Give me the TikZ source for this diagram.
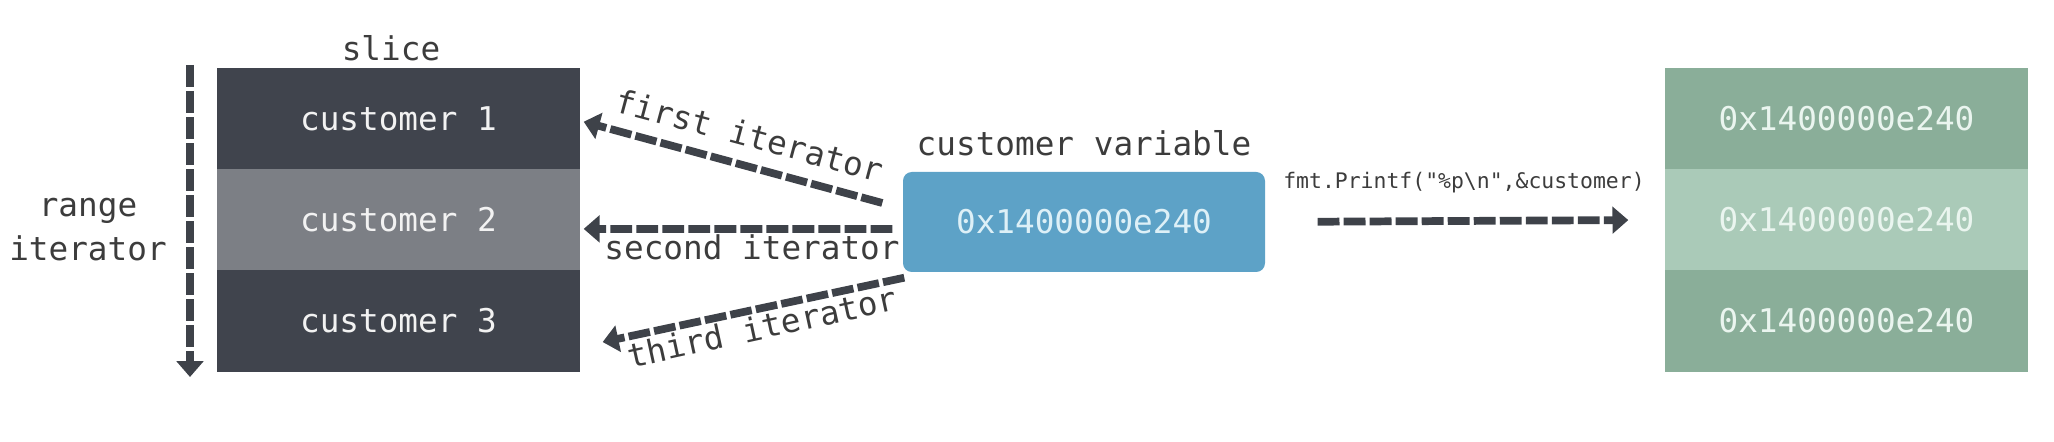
\documentclass[tikz,border=0pt]{standalone}
\usepackage{fontspec}
\setmonofont{DejaVu Sans Mono}
\usepackage{tikz}
\usetikzlibrary{arrows.meta, positioning}

\definecolor{slicedark}{HTML}{40444D}
\definecolor{slicemid}{HTML}{7C7F85}
\definecolor{cellwhite}{HTML}{F2F2F2}
\definecolor{varblue}{HTML}{5DA2C7}
\definecolor{vartext}{HTML}{DDF0F7}
\definecolor{memgreen}{HTML}{8AAE99}
\definecolor{memlight}{HTML}{AACAB8}
\definecolor{memtext}{HTML}{EAF5EF}
\definecolor{labelgray}{HTML}{3C3C3C}
\definecolor{arrowgray}{HTML}{3E4249}

\tikzset{
    cell/.style={minimum width=3.63cm, minimum height=1.015cm, inner sep=0pt,
        text=cellwhite, font=\ttfamily\fontsize{9.3}{11}\selectfont},
    lbl/.style={inner sep=0pt, text=labelgray, font=\ttfamily\fontsize{9.3}{12.5}\selectfont},
    iter/.style={draw=arrowgray, line width=2.2pt, dash pattern=on 6.2pt off 1.2pt,
        -{Triangle[length=4.5pt, width=7.5pt]}}
}

\begin{document}
\begin{tikzpicture}
    \useasboundingbox (0,0) rectangle (20.54,4.42);

    \node [cell, fill=slicedark] (c1) at (3.985,3.2325) {customer 1};
    \node [cell, fill=slicemid, below=-0.5pt of c1] (c2) {customer 2};
    \node [cell, fill=slicedark, below=-0.5pt of c2] (c3) {customer 3};
    \node [lbl] (slice) at (3.91,3.94) {slice};

    \coordinate (rtop) at (1.90,3.77);
    \coordinate (rbot) at (1.90,0.65);
    \draw [iter, line width=2.4pt] (rtop) -- (rbot);
    \node [lbl, align=center] (range) at (0.88,2.12) {range\\iterator};

    \node [cell, fill=varblue, text=vartext, rounded corners=2.5pt, minimum width=3.62cm, minimum height=1cm] (var) at (10.84,2.20) {0x1400000e240};
    \node [lbl] (varname) at (10.84,2.99) {customer variable};

    \draw [iter] ([xshift=-0.20cm,yshift=0.19cm]var.west) -- ([xshift=0.03cm,yshift=-0.03cm]c1.east);
    \draw [iter] ([xshift=-0.10cm,yshift=-0.07cm]var.west) -- ([xshift=0.03cm,yshift=-0.09cm]c2.east);
    \draw [iter] ([xshift=0.02cm,yshift=-0.05cm]var.south west) -- ([xshift=0.22cm,yshift=-0.21cm]c3.east);
    \node [lbl, rotate=-15] (first) at (7.50,3.07) {first iterator};
    \node [lbl] (second) at (7.52,1.95) {second iterator};
    \node [lbl, rotate=12.3] (third) at (7.62,1.15) {third iterator};

    \node [cell, fill=memgreen, text=memtext] (m1) at (18.465,3.2325) {0x1400000e240};
    \node [cell, fill=memlight, text=memtext, below=-0.5pt of m1] (m2) {0x1400000e240};
    \node [cell, fill=memgreen, text=memtext, below=-0.5pt of m2] (m3) {0x1400000e240};

    \node [lbl, font=\ttfamily\fontsize{6.1}{7}\selectfont] (call) at (14.64,2.59) {fmt.Printf("\%p\textbackslash n",\&customer)};
    \draw [iter, shorten <=0.52cm, shorten >=0.36cm] (var.east) -- (m2.west);
\end{tikzpicture}
\end{document}
